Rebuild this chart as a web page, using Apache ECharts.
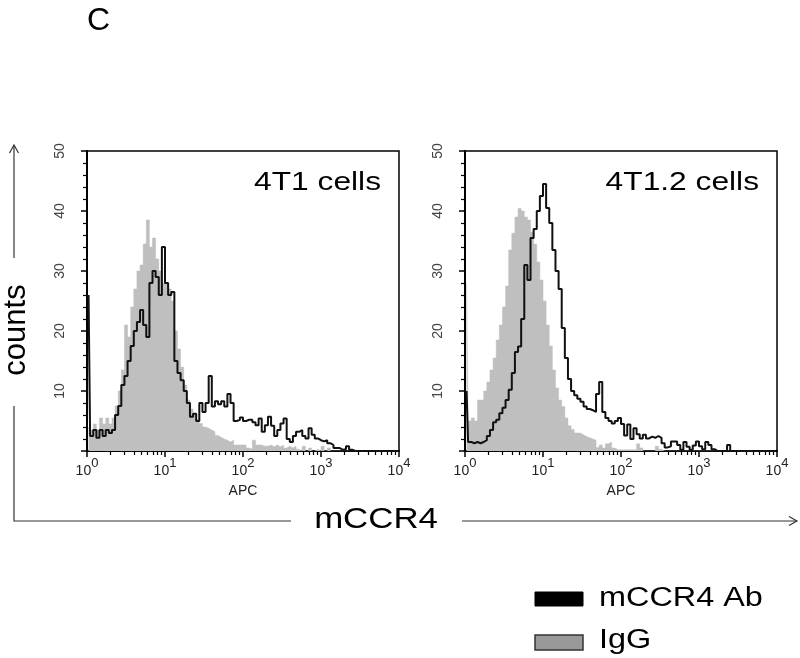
<!DOCTYPE html>
<html><head><meta charset="utf-8">
<script src="https://cdn.jsdelivr.net/npm/echarts@6/dist/echarts.min.js"></script>
<style>html,body{margin:0;padding:0;background:#fff}#c{width:800px;height:658px}</style>
</head><body><div id="c"></div>
<script>
// ---- data (APC channel bins on a log10 scale, 0.04 decade wide) ----
const panelTitles = ['4T1 cells', '4T1.2 cells'];
const seriesNames = ['mCCR4 Ab', 'IgG'];
const xTickExponents = [0, 1, 2, 3, 4];
const yTicks = [10, 20, 30, 40, 50];
const binCount = 100;
const binWidthDecades = 0.04;

const igg4T1 = [4,3.5,4.5,3.5,5.5,4.5,5.5,4.5,5.5,7.5,
  10,13.5,21,19,24,27,30,31,34.5,38.5,
  34,35.5,32,30,28,28,27,25,20,17,
  14,11,8.5,7,6,5.2,4.6,4,3.8,3.5,
  3.2,2.6,2.3,2,1.8,1.5,1.8,1,1,1,
  1,0.5,0.3,1.8,1,1,0.8,0.8,1,0.7,
  1,0.7,1,0.5,0.8,0.5,0.8,0.3,0,0.8,
  0,0.5,0,0.3,0,0.8,0,0.5,0,0,
  0,0,0,0,0,0,0,0,0,0,
  0,0,0,0,0,0,0,0,0,0];
const ab4T1 = [26,2.5,3.5,2.2,3.5,2.5,3.5,3,3.5,6,
  7.5,11,12.5,15,17.5,20,21.5,23.5,21,19,
  28,30,29,26,34,28,26,26.5,15,13,
  11.8,10,8,5.7,6.2,5,8,6.5,8,12.5,
  7.4,8.3,7.8,8.3,7.4,9.5,8,5,5.2,5.6,
  5,5.2,5.2,4.8,4.3,5.4,3.2,4.3,5.7,4.2,
  2.5,3.5,4.6,5.4,2,1.5,2.5,3.2,3.5,2.5,
  2.1,3.8,2.7,2.1,1.8,1.6,1.8,1.3,1,0.5,
  0.5,0.2,0.3,0.8,0.2,0,0,0,0,0,
  0,0,0,0,0,0,0,0,0,0];
const igg4T12 = [28,5,5.5,5,8.5,8.5,10,11.5,13.5,15.5,
  18.5,21,24,27.5,33.5,36.3,39,40.4,40,39,
  38.5,36.5,34.5,31.5,28.5,25,21,17.5,13.5,10.5,
  8.5,7.4,5.5,4.2,3.6,3,3,2.7,2.4,2.2,
  2,1.8,0.6,1,0.5,1.2,1.5,0.5,0.2,0.2,
  0.2,0.2,0.2,0.2,0.2,1.2,0.5,0,0,0,
  0,0.8,0.3,0,0,0,0,0,0,0,
  0,0,0,0,0,0,0,0,0,0,
  0,0,0,0,0,0,0,0,0,0,
  0,0,0,0,0,0,0,0,0,0];
const ab4T12 = [10,1.5,1.3,1.5,1.3,1.5,1.8,2.5,3.5,4.8,
  5.2,6.3,7.2,8.5,10.2,13,16.5,17.4,22,31,
  28.5,35.5,37,40,42.5,44.5,40.5,38,33.5,30,
  27,20.5,15.5,12,10,9.3,8.7,8.2,7.4,7,
  6.8,6.5,9.5,11.5,6.5,5.5,5,4.6,5,5.5,
  4.5,2.6,4.4,2,3.8,2.8,2.1,2.7,2.1,2.4,
  2.2,2.5,2.2,1.3,0.6,0.8,1.6,1.6,1,0.2,
  1.5,0.7,0.2,0.9,1.6,0.8,0.3,1.5,1,0.3,
  0,0,0,0,1,0,0,0,0,0,
  0,0,0,0,0,0,0,0,0,0];

// ---- build ----
const binCenters = [];
for (let i = 0; i < binCount; i++) binCenters.push(+(binWidthDecades * (i + 0.5)).toFixed(3));
const pairs = arr => arr.map((v, i) => [binCenters[i], v]);
const minorTickVals = [];
for (let d = 0; d < 4; d++) for (let k = 2; k <= 9; k++) minorTickVals.push(d + Math.log10(k));

const FONT = 'Liberation Sans, Arial, sans-serif';
const grids = [
  {left: 87, top: 151, width: 312, height: 300},
  {left: 465, top: 151, width: 312, height: 300}
];
const panels = [[ab4T1, igg4T1], [ab4T12, igg4T12]];

const option = {
  animation: false,
  backgroundColor: '#fff',
  textStyle: {fontFamily: FONT},
  grid: grids.map(g => Object.assign({show: true, borderColor: '#000', borderWidth: 1.5, backgroundColor: 'transparent'}, g)),
  xAxis: [],
  yAxis: [],
  series: [],
  graphic: []
};

grids.forEach((g, gi) => {
  option.xAxis.push({
    type: 'value', gridIndex: gi, min: 0, max: 4, interval: 1, position: 'bottom',
    name: 'APC', nameLocation: 'middle', nameGap: 33,
    nameTextStyle: {fontSize: 14, color: '#222', fontFamily: FONT},
    axisLine: {show: true, onZero: false, lineStyle: {color: '#000', width: 2}},
    axisTick: {show: true, length: 6, lineStyle: {color: '#000', width: 1.5}},
    splitLine: {show: false},
    axisLabel: {
      margin: 6, color: '#222',
      formatter: v => '{b|10}{s|' + xTickExponents[Math.round(v)] + '}',
      rich: {
        b: {fontSize: 14, fontFamily: FONT, color: '#222', lineHeight: 21, verticalAlign: 'bottom'},
        s: {fontSize: 13, fontFamily: FONT, color: '#222', lineHeight: 21, verticalAlign: 'top'}
      }
    }
  });
  option.xAxis.push({
    type: 'value', gridIndex: gi, min: 0, max: 4, position: 'bottom',
    axisLine: {show: false, onZero: false},
    axisLabel: {show: false}, splitLine: {show: false},
    axisTick: {show: true, length: 4, customValues: minorTickVals, lineStyle: {color: '#000', width: 1.2}}
  });
  option.yAxis.push({
    type: 'value', gridIndex: gi, min: 0, max: 50, interval: 10,
    axisLine: {show: true, lineStyle: {color: '#000', width: 2}},
    axisTick: {show: true, length: 6, lineStyle: {color: '#000', width: 1.5}},
    minorTick: {show: true, splitNumber: 5, length: 4, lineStyle: {color: '#000', width: 1.2}},
    splitLine: {show: false},
    axisLabel: {
      rotate: 90, margin: 20, fontSize: 14, color: '#444', fontFamily: FONT,
      formatter: v => (yTicks.indexOf(v) >= 0 ? String(v) : '')
    }
  });
  const [ab, igg] = panels[gi];
  option.series.push({
    name: seriesNames[1], type: 'line', step: 'middle', symbol: 'none',
    xAxisIndex: gi * 2, yAxisIndex: gi, data: pairs(igg),
    color: '#bfbfbf', lineStyle: {width: 0.5, color: '#bfbfbf'},
    areaStyle: {color: '#bfbfbf', opacity: 1}, z: 2
  });
  option.series.push({
    name: seriesNames[0], type: 'line', step: 'middle', symbol: 'none',
    xAxisIndex: gi * 2, yAxisIndex: gi, data: pairs(ab),
    color: '#000', lineStyle: {width: 2, color: '#111'}, z: 3
  });
  option.graphic.push({
    type: 'text', x: g.left + g.width - 18, y: 183, scaleX: 1.22,
    style: {text: panelTitles[gi], fontSize: 26, fontFamily: FONT, fill: '#000', textAlign: 'right', textVerticalAlign: 'middle'}
  });
});

const lineStyle = {stroke: '#333', lineWidth: 1.2};
option.graphic.push(
  {type: 'text', x: 87, y: 21, style: {text: 'C', fontSize: 32, fontFamily: FONT, fill: '#000', textAlign: 'left', textVerticalAlign: 'middle'}},
  {type: 'text', x: 16, y: 330, rotation: Math.PI / 2, style: {text: 'counts', fontSize: 31, fontFamily: FONT, fill: '#000', textAlign: 'center', textVerticalAlign: 'middle'}},
  {type: 'text', x: 376, y: 520, scaleX: 1.2, style: {text: 'mCCR4', fontSize: 29, fontFamily: FONT, fill: '#000', textAlign: 'center', textVerticalAlign: 'middle'}},
  {type: 'line', shape: {x1: 14, y1: 258, x2: 14, y2: 145}, style: lineStyle},
  {type: 'polyline', shape: {points: [[9.5, 153], [14, 145], [18.5, 153]]}, style: Object.assign({fill: null}, lineStyle)},
  {type: 'polyline', shape: {points: [[14, 406], [14, 521], [291, 521]]}, style: Object.assign({fill: null}, lineStyle)},
  {type: 'line', shape: {x1: 462, y1: 521, x2: 797, y2: 521}, style: lineStyle},
  {type: 'polyline', shape: {points: [[789, 516.5], [797, 521], [789, 525.5]]}, style: Object.assign({fill: null}, lineStyle)},
  // legend
  {type: 'rect', shape: {x: 535, y: 592, width: 48, height: 14}, style: {fill: '#000', stroke: '#000', lineWidth: 1}},
  {type: 'text', x: 599, y: 599, scaleX: 1.2, style: {text: seriesNames[0], fontSize: 27, fontFamily: FONT, fill: '#000', textAlign: 'left', textVerticalAlign: 'middle'}},
  {type: 'rect', shape: {x: 535, y: 635, width: 48, height: 15}, style: {fill: '#999', stroke: '#333', lineWidth: 1.5}},
  {type: 'text', x: 599, y: 641, scaleX: 1.2, style: {text: seriesNames[1], fontSize: 27, fontFamily: FONT, fill: '#000', textAlign: 'left', textVerticalAlign: 'middle'}}
);

const chart = echarts.init(document.getElementById('c'), null, {renderer: 'canvas'});
chart.setOption(option);
</script></body></html>
